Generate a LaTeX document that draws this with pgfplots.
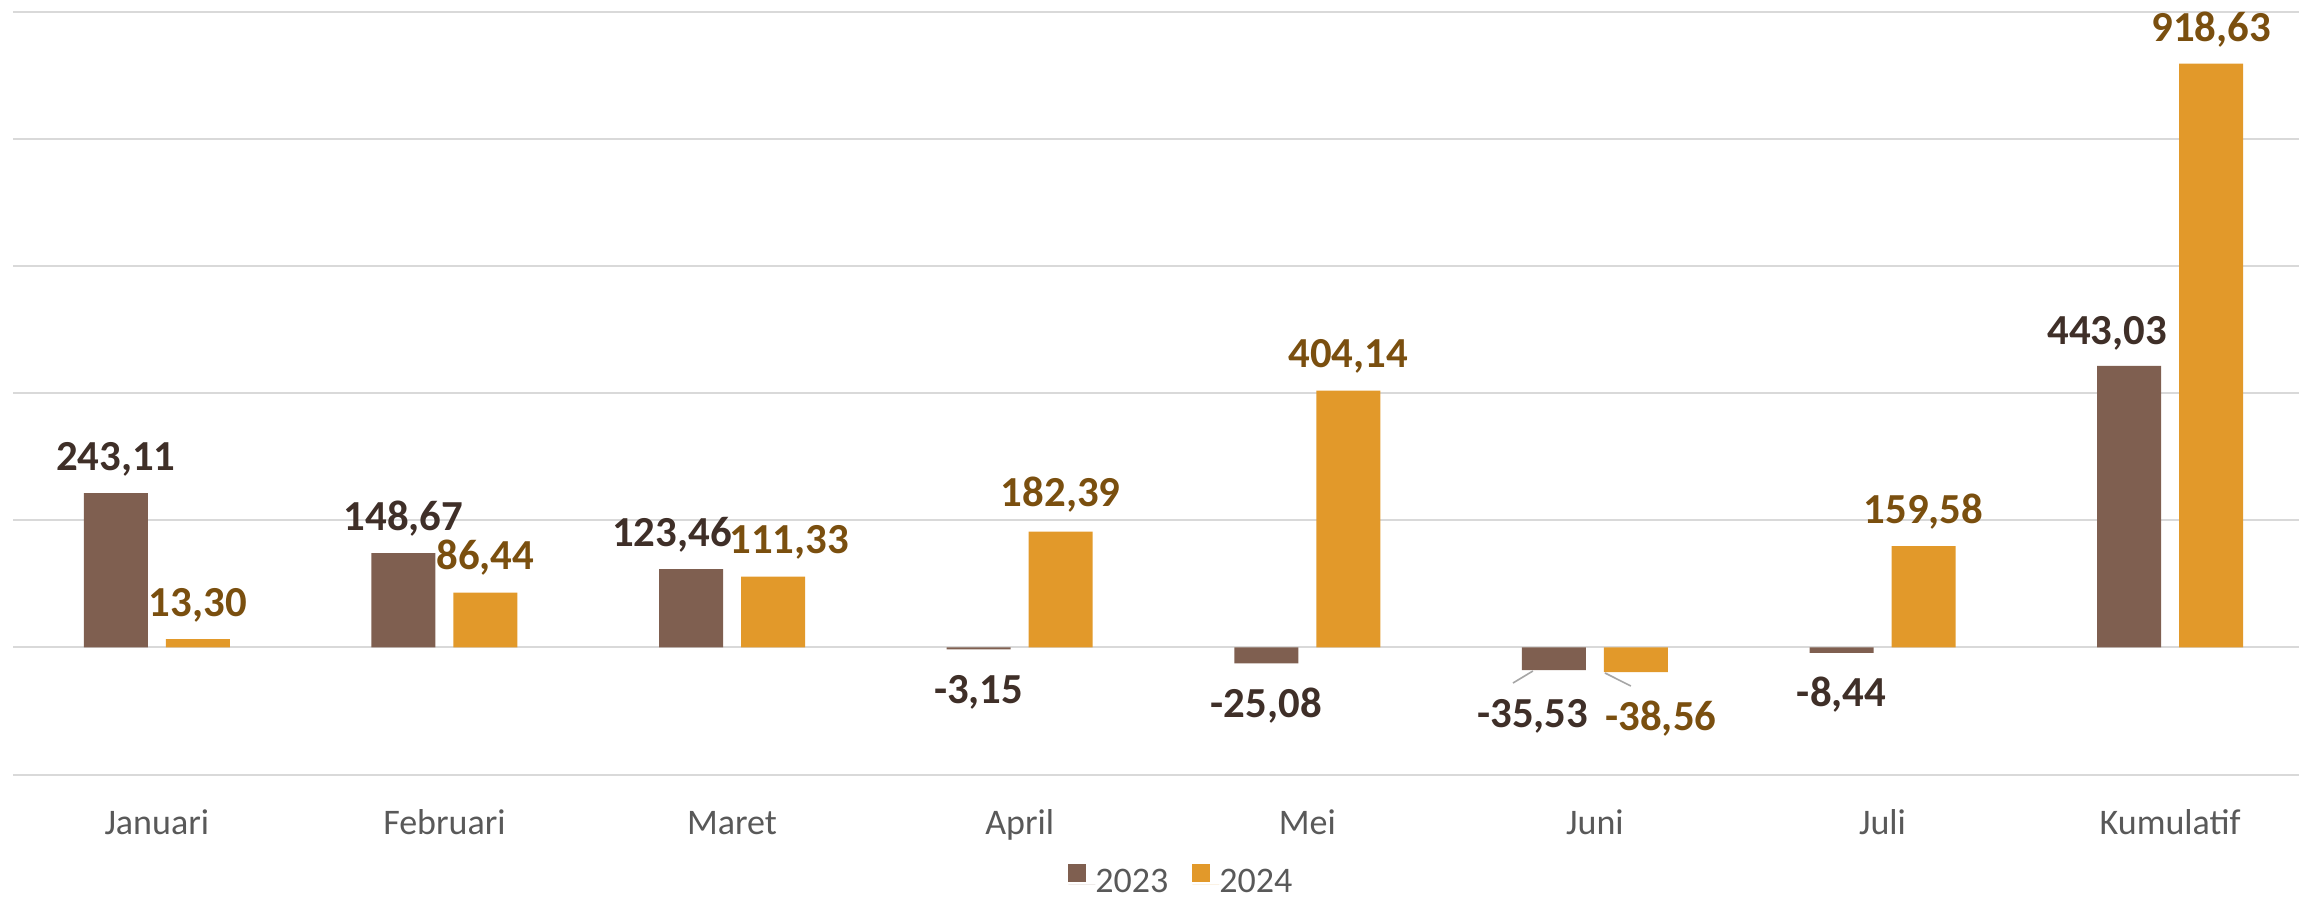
\documentclass[border=0pt]{standalone}
\usepackage{pgfplots}
\pgfplotsset{compat=1.18}
\usepackage{pgfplotstable}
\usepackage{fontspec}
\setmainfont{Carlito}

\definecolor{c23}{HTML}{7F5F50}
\definecolor{c24}{HTML}{E2992A}
\definecolor{l23}{HTML}{3F2F28}
\definecolor{l24}{HTML}{7A4F0F}
\definecolor{txt}{HTML}{595959}
\definecolor{gridc}{HTML}{D9D9D9}
\definecolor{lead}{HTML}{A6A6A6}

% x y dx ly : label offsets in px (1px = 0.25pt)
\pgfplotstableread{
x y dx ly
0 243.11 0 23
1 148.67 0 23
2 123.46 -19 23
3 -3.15 0 -54
4 -25.08 0 -54
5 -35.53 -21 -57
6 -8.44 0 -54
7 443.03 -22 21
}\dataA
\pgfplotstableread{
x y dx ly
0 13.30 0 23
1 86.44 0 23
2 111.33 16 23
3 182.39 0 25
4 404.14 0 23
5 -38.56 25 -58
6 159.58 0 23
7 918.63 0 22
}\dataB

\begin{document}
\begin{tikzpicture}
\begin{axis}[
  name=ax,
  scale only axis,
  width=571.5pt, height=190.65pt,
  xmin=-0.5, xmax=7.448,
  ymin=-200, ymax=1000,
  ytick={-200,0,...,1000}, yticklabels={},
  xtick={0,...,7},
  xticklabels={Januari,Februari,Maret,April,Mei,Juni,Juli,Kumulatif},
  xticklabel style={anchor=base, yshift=-15.1pt, font=\fontsize{9}{11}\selectfont, text=txt},
  major tick length=0pt,
  axis line style={draw=none},
  ymajorgrids, grid style={gridc, line width=0.5pt},
  /pgf/number format/.cd, fixed, fixed zerofill, precision=2, use comma, assume math mode=true,
  /pgfplots/.cd,
  legend columns=2,
  legend style={at={(0.5107,-0.140)}, anchor=center, draw=none, fill=none,
    inner sep=0pt, nodes={inner sep=0pt, text=txt, font=\fontsize{9}{11}\selectfont},
    /tikz/every even column/.append style={column sep=6pt}},
  every node near coord/.append style={anchor=base, inner sep=0pt,
    font=\fontsize{10.7}{13}\selectfont\bfseries,
    xshift=\labdx*0.25pt, yshift=\labdy*0.25pt},
]
\addplot[ybar, bar width=0.2225, bar shift=0pt, fill=c23, draw=none,
  legend image code/.code={\fill[c23] (0pt,0.6pt) rectangle (4.5pt,5.1pt); \path (0pt,0pt) -- (6.75pt,0pt);},
  visualization depends on={\thisrow{dx} \as \labdx},
  visualization depends on={\thisrow{ly} \as \labdy},
  nodes near coords, every node near coord/.append style={text=l23}]
  table[x expr=\thisrow{x}-0.1426, y=y] {\dataA};
\addlegendentry{2023}
\addplot[ybar, bar width=0.2225, bar shift=0pt, fill=c24, draw=none,
  legend image code/.code={\fill[c24] (0pt,0.6pt) rectangle (4.5pt,5.1pt); \path (0pt,0pt) -- (6.75pt,0pt);},
  visualization depends on={\thisrow{dx} \as \labdx},
  visualization depends on={\thisrow{ly} \as \labdy},
  nodes near coords, every node near coord/.append style={text=l24}]
  table[x expr=\thisrow{x}+0.1426, y=y] {\dataB};
\addlegendentry{2024}
% leader lines of the Juni labels
\draw[lead, line width=0.4pt] (axis cs:4.7844,-37.0) -- (axis cs:4.715,-55.9);
\draw[lead, line width=0.4pt] (axis cs:5.035,-40.1) -- (axis cs:5.125,-60.6);
\end{axis}
\pgfresetboundingbox
\path ([shift={(-3.25pt,-31.6pt)}]ax.south west) rectangle ([shift={(0pt,3pt)}]ax.north east);
\end{tikzpicture}
\end{document}
